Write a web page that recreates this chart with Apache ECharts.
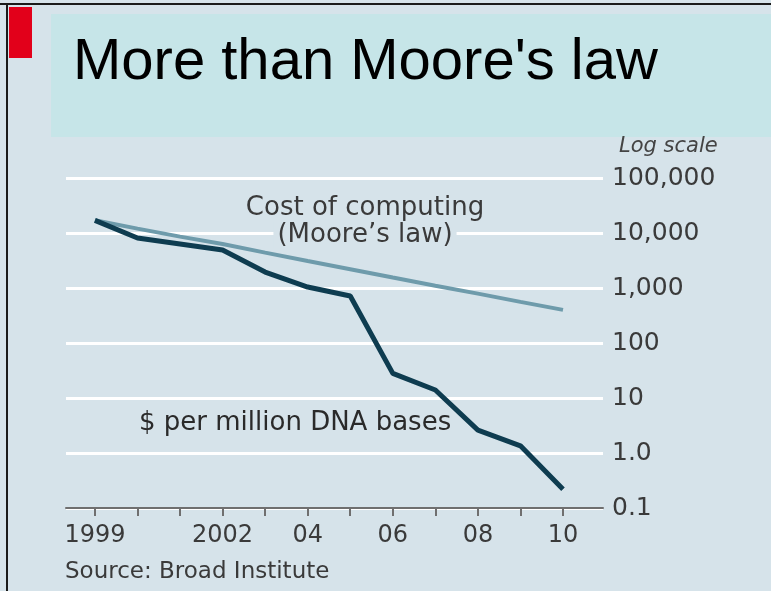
<!DOCTYPE html>
<html>
<head>
<meta charset="utf-8">
<script src="https://cdn.jsdelivr.net/npm/echarts@6/dist/echarts.min.js"></script>
<style>
  html, body { margin: 0; padding: 0; background: #d6e3ea; }
  #chart { width: 771px; height: 591px; }
</style>
</head>
<body>
<div id="chart"></div>
<script>
// data
const years = [1999, 2000, 2001, 2002, 2003, 2004, 2005, 2006, 2007, 2008, 2009, 2010];
const dnaCost = [17000, 8100, 6300, 4900, 1950, 1040, 715, 28, 14, 2.6, 1.35, 0.22];
const mooreCost = [17000, 12000, 8600, 6300, 4400, 3100, 2200, 1550, 1100, 790, 560, 400];
const xLabelYears = [1999, 2002, 2004, 2006, 2008, 2010];
const xLabelText = ['1999', '2002', '04', '06', '08', '10'];
const yTickText = { '-1': '0.1', '0': '1.0', '1': '10', '2': '100', '3': '1,000', '4': '10,000', '5': '100,000' };

const textFont = '"DejaVu Sans", "Open Sans", sans-serif';
const chart = echarts.init(document.getElementById('chart'));

chart.setOption({
  backgroundColor: '#d6e3ea',
  animation: false,
  grid: { left: 66, right: 168, top: 178, bottom: 83 },
  graphic: [
    // frame lines
    { type: 'rect', shape: { x: 0, y: 3, width: 771, height: 2 }, style: { fill: '#1a1a1a' } },
    { type: 'rect', shape: { x: 6, y: 3, width: 2, height: 588 }, style: { fill: '#1a1a1a' } },
    // title panel
    { type: 'rect', shape: { x: 51, y: 14, width: 720, height: 123 }, style: { fill: '#c6e5e8' } },
    { type: 'rect', shape: { x: 9, y: 7, width: 23, height: 51 }, style: { fill: '#e2001a' } },
    {
      type: 'text', left: 73, top: 34,
      style: { text: "More than Moore's law", fill: '#000', font: '58px "Liberation Sans", Arial, sans-serif' }
    },
    {
      type: 'text', left: 619, top: 136,
      style: { text: 'Log scale', fill: '#444', font: 'italic 21px ' + textFont }
    },
    {
      type: 'text', x: 365, y: 195, z: 2,
      style: { text: 'Cost of computing', fill: '#3a3a3a', align: 'center', verticalAlign: 'top', font: '26px ' + textFont }
    },
    {
      type: 'text', x: 365, y: 222, z: 2,
      style: {
        text: '(Moore\u2019s law)', fill: '#3a3a3a', align: 'center', verticalAlign: 'top', font: '26px ' + textFont,
        backgroundColor: '#d6e3ea', padding: [0, 4, 0, 4]
      }
    },
    {
      type: 'text', left: 139, top: 410,
      style: { text: '$ per million DNA bases', fill: '#2a2a2a', font: '26px ' + textFont }
    },
    {
      type: 'text', left: 65, top: 561,
      style: { text: 'Source: Broad Institute', fill: '#3a3a3a', font: '23px ' + textFont }
    }
  ],
  xAxis: {
    type: 'value',
    min: 1998.32,
    max: 2010.94,
    axisLine: { show: true, lineStyle: { color: '#6f6f6f', width: 2 } },
    axisTick: { show: true, customValues: years, length: 8, lineStyle: { color: '#6f6f6f', width: 2 } },
    axisLabel: {
      customValues: xLabelYears,
      formatter: v => xLabelText[xLabelYears.indexOf(Math.round(v))],
      color: '#3a3a3a',
      fontSize: 24,
      fontFamily: textFont,
      margin: 16
    },
    splitLine: { show: false }
  },
  yAxis: {
    type: 'log',
    logBase: 10,
    min: 0.1,
    max: 100000,
    position: 'right',
    axisLine: { show: false },
    axisTick: { show: false },
    axisLabel: {
      formatter: v => yTickText[String(Math.round(Math.log10(v)))],
      color: '#3a3a3a',
      fontSize: 25,
      fontFamily: textFont,
      margin: 9
    },
    splitLine: { show: true, lineStyle: { color: '#ffffff', width: 3 } }
  },
  series: [
    {
      name: 'Cost of computing',
      type: 'line',
      data: years.map((y, i) => [y, mooreCost[i]]),
      showSymbol: false,
      lineStyle: { color: '#6e9bab', width: 4 },
      z: 3
    },
    {
      name: '$ per million DNA bases',
      type: 'line',
      data: years.map((y, i) => [y, dnaCost[i]]),
      showSymbol: false,
      lineStyle: { color: '#0e3c50', width: 5 },
      z: 4
    }
  ]
});
</script>
</body>
</html>
